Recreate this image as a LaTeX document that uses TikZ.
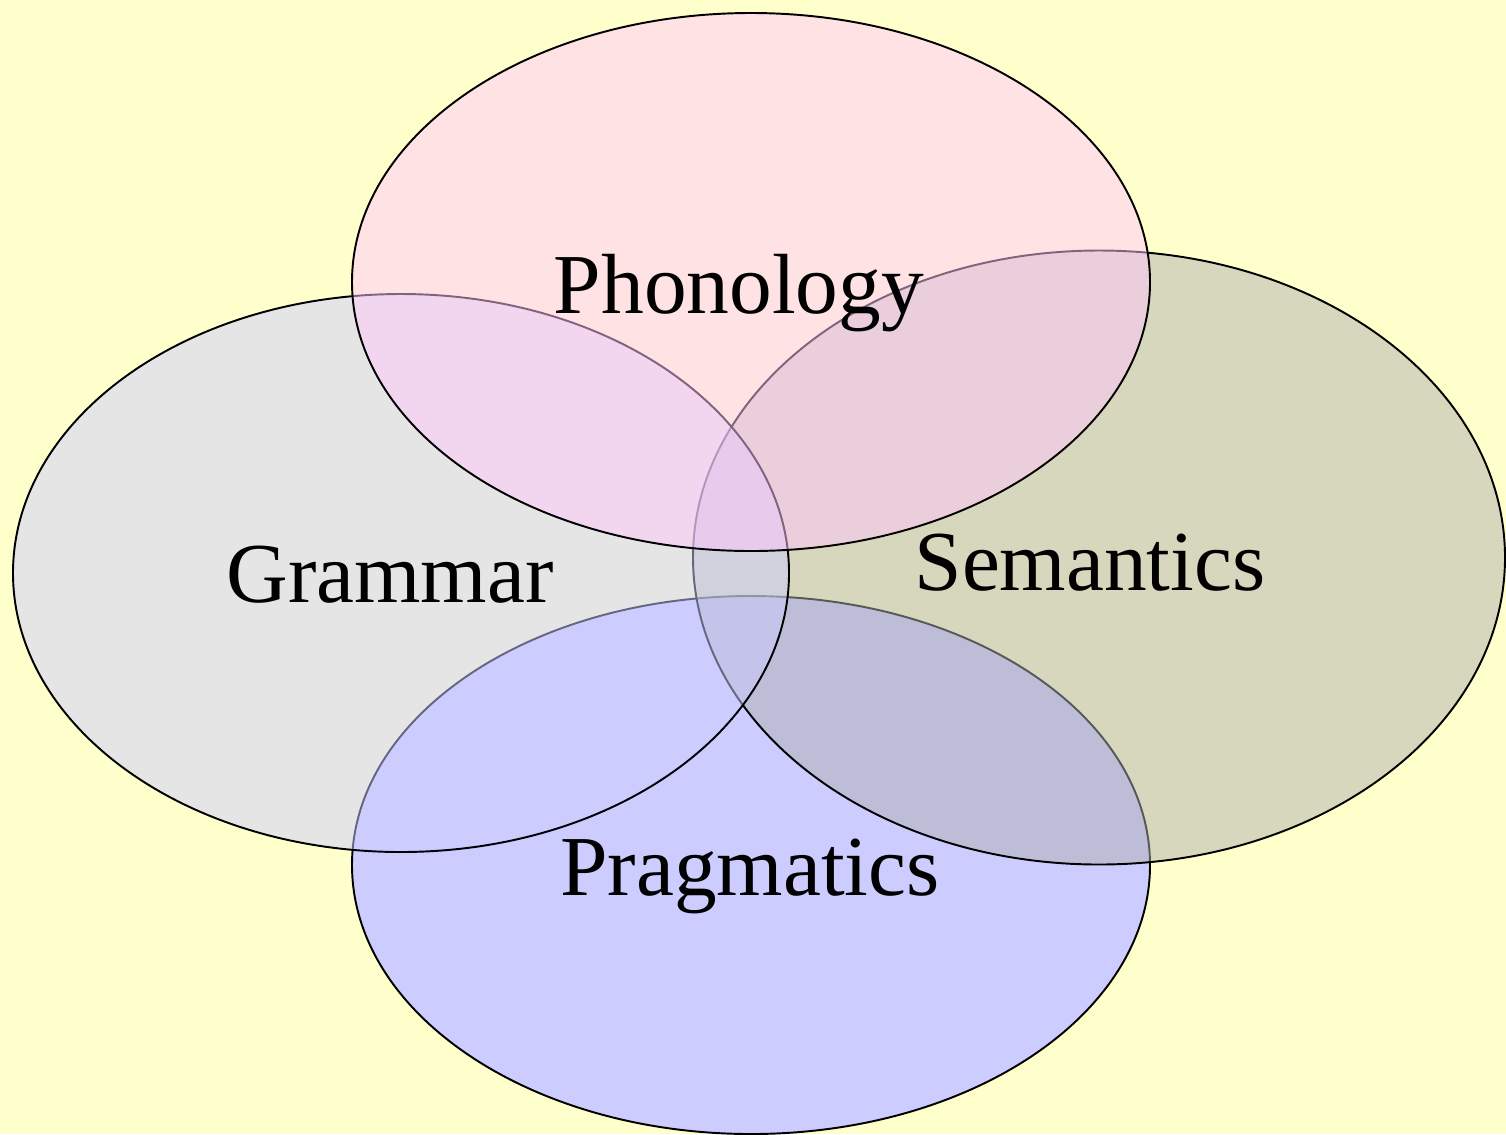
\documentclass[tikz,border=0pt]{standalone}
\usepackage{fontspec}
\setmainfont{Liberation Serif}
\usepackage{xcolor}
\usepackage{tikz}
\usetikzlibrary{positioning}
\definecolor{sfondo}{RGB}{255,255,204}
\definecolor{rosa}{RGB}{255,198,250}
\definecolor{grigio}{RGB}{176,176,176}
\definecolor{lilla}{RGB}{204,204,255}
\tikzset{
  insieme/.style={draw=black,line width=1.1pt,fill opacity=0.5},
  etichetta/.style={font=\fontsize{48.6}{58}\selectfont,anchor=base,inner sep=0pt}
}

\begin{document}
\begin{tikzpicture}[x=0.02cm,y=-0.02cm]
\fill[sfondo] (0,0) rectangle (1506,1134);
\useasboundingbox (0,0) rectangle (1506,1134);
% insiemi
\draw[insieme,fill=lilla,fill opacity=1] (751,865) ellipse [x radius=399,y radius=269];
\draw[insieme,fill=grigio] (1099,557.5) ellipse [x radius=406,y radius=307];
\draw[insieme,fill=lilla] (401,573) ellipse [x radius=388,y radius=279];
\draw[insieme,fill=rosa] (751,282) ellipse [x radius=399,y radius=269];
% nomi
\node[etichetta] (fonologia) at (739,313) {Phonology};
\node[etichetta] (grammatica) at (390,602) {Grammar};
\node[etichetta] (semantica) at (1090,590) {Semantics};
\node[etichetta] (pragmatica) at (750,895) {Pragmatics};
\end{tikzpicture}
\end{document}
